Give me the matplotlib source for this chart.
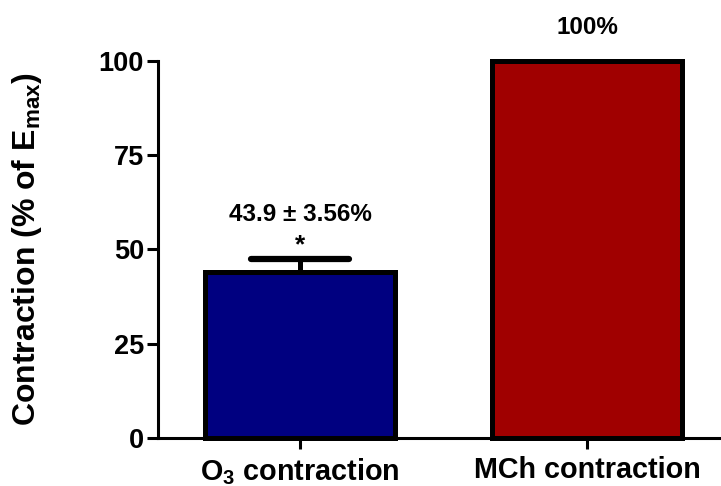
import matplotlib
matplotlib.use("Agg")
import matplotlib.pyplot as plt
import numpy as np

# Data
categories = [r"O$_{3}$ contraction", "MCh contraction"]
means = [43.9, 100.0]
sems = [3.56, 0.0]
value_labels = ["43.9 \u00b1 3.56%", "100%"]
significance = ["*", ""]
bar_colors = ["#000080", "#A00000"]
y_ticks = [0, 25, 50, 75, 100]

plt.rcParams["font.family"] = ["Liberation Sans", "DejaVu Sans"]
plt.rcParams["font.weight"] = "bold"
plt.rcParams["mathtext.fontset"] = "custom"
plt.rcParams["mathtext.rm"] = "Liberation Sans:bold"
plt.rcParams["mathtext.bf"] = "Liberation Sans:bold"
plt.rcParams["mathtext.default"] = "bf"

fig = plt.figure(figsize=(7.21, 4.86), dpi=100)
ax = fig.add_axes([0.2191, 0.0988, 0.7809, 0.7757])

x = np.arange(len(categories))
bars = ax.bar(x, means, width=0.66, color=bar_colors, edgecolor="black",
              linewidth=3.6, zorder=3, clip_on=False)

# upward-only error bars with rounded caps
for xi, m, s in zip(x, means, sems):
    if s > 0:
        ax.vlines(xi, m, m + s, color="black", linewidth=3.6, zorder=2)
        ax.hlines(m + s, xi - 0.17, xi + 0.17, color="black", linewidth=4.5,
                  capstyle="round", zorder=4)

# annotations above the bars
for xi, m, s, lab, sig in zip(x, means, sems, value_labels, significance):
    top = m + s
    if sig:
        ax.annotate(sig, (xi, top), xytext=(0, 1), textcoords="offset points",
                    ha="center", va="bottom", fontsize=19, fontweight="bold",
                    annotation_clip=False)
        ax.annotate(lab, (xi, top), xytext=(0, 24), textcoords="offset points",
                    ha="center", va="bottom", fontsize=17.5, fontweight="bold",
                    annotation_clip=False)
    else:
        ax.annotate(lab, (xi, top), xytext=(0, 16), textcoords="offset points",
                    ha="center", va="bottom", fontsize=17.5, fontweight="bold",
                    annotation_clip=False)

ax.set_xlim(-0.495, 1.467)
ax.set_ylim(0, 100)
ax.set_yticks(y_ticks)
ax.set_yticklabels([str(t) for t in y_ticks], fontsize=19.5, fontweight="bold")
ax.set_xticks(x)
ax.set_xticklabels(categories, fontsize=20.7, fontweight="bold")

ax.set_ylabel(r"Contraction (% of E$_{max}$)", fontsize=23, fontweight="bold")
ax.yaxis.set_label_coords(-0.2025, 0.5)

for side in ["top", "right"]:
    ax.spines[side].set_visible(False)
for side in ["left", "bottom"]:
    ax.spines[side].set_linewidth(2.2)
ax.tick_params(axis="both", width=2.2, length=8, pad=2)
ax.tick_params(axis="x", pad=5)

fig.savefig("out.png", dpi=100)
